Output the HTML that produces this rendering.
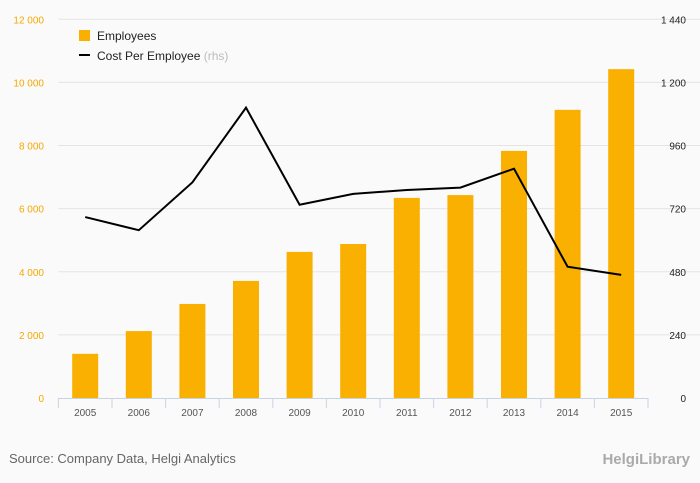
<!DOCTYPE html>
<html><head><meta charset="utf-8"><style>
body{margin:0;background:#fafafa;font-family:"Liberation Sans",sans-serif}
svg{display:block}
</style></head><body>
<svg width="700" height="483">
<rect width="700" height="483" fill="#fafafa"/>
<g id="grid"></g>
<g id="bars"></g>
<g id="line"></g>
<g id="axes"></g>
<g>
<rect x="79" y="30" width="11" height="11" fill="#f9b000"/>
<text x="97" y="40" font-size="12" fill="#222">Employees</text>
<line x1="79" y1="55" x2="90" y2="55" stroke="#000" stroke-width="2"/>
<text x="97" y="60" font-size="12" fill="#222">Cost Per Employee <tspan fill="#bbb">(rhs)</tspan></text>
</g>
<text x="9" y="463" font-size="13" fill="#666">Source: Company Data, Helgi Analytics</text>
<text x="690" y="464" font-size="15" fill="#aaa" text-anchor="end" font-weight="bold">HelgiLibrary</text>
</svg>
<script>
const years=["2005","2006","2007","2008","2009","2010","2011","2012","2013","2014","2015"];
const employees=[1400,2120,2980,3710,4630,4880,6340,6430,7830,9130,10420];
const costPerEmployee=[688,638,820,1104,735,776,791,800,872,499,468];
const leftTicks=[0,2000,4000,6000,8000,10000,12000];
const rightTicks=[0,240,480,720,960,1200,1440];
const NS="http://www.w3.org/2000/svg";
const x0=58.4,step=53.6,yb=398,yt=19.3;
const yL=v=>yb-(v/12000)*(yb-yt);
const yR=v=>yb-(v/1440)*(yb-yt);
const xc=i=>x0+step*(i+0.5);
const fmt=v=>v>=1000?Math.floor(v/1000)+" "+String(v%1000).padStart(3,"0"):String(v);
function mk(t,a,p){const e=document.createElementNS(NS,t);for(const k in a)e.setAttribute(k,a[k]);p.appendChild(e);return e;}
const grid=document.getElementById("grid"),axes=document.getElementById("axes");
leftTicks.forEach((v,i)=>{
 if(v>0){const g=mk("line",{x1:x0,x2:700,y1:yL(v),y2:yL(v),stroke:"#e4e4e4"},grid);
 
 }
 const t=mk("text",{x:44,y:yL(v)+4,"font-size":10,fill:"#f5a800","text-anchor":"end"},axes);t.textContent=fmt(v);
 
 
});
rightTicks.forEach(v=>{
 const t=mk("text",{x:686,y:yR(v)+4,"font-size":10,fill:"#222","text-anchor":"end"},axes);t.textContent=fmt(v);
 
 
});
const ax=mk("line",{x1:x0,x2:x0+step*11,y1:yb+0.5,y2:yb+0.5,stroke:"#c8d4e6"},axes);


for(let i=0;i<=11;i++){const tk=mk("line",{x1:x0+step*i,x2:x0+step*i,y1:yb,y2:yb+10,stroke:"#c8d4e6"},axes);
 
 }
const bars=document.getElementById("bars");
years.forEach((y,i)=>{
 const b=mk("rect",{x:xc(i)-13,y:yL(employees[i]),width:26,height:yb-yL(employees[i]),fill:"#f9b000"},bars);
 
 
 const t=mk("text",{x:xc(i),y:416,"font-size":10,fill:"#555","text-anchor":"middle"},axes);t.textContent=y;
 
 
});
const p=mk("polyline",{points:costPerEmployee.map((v,i)=>xc(i)+","+yR(v)).join(" "),fill:"none",stroke:"#000","stroke-width":2,"stroke-linejoin":"miter"},document.getElementById("line"));


</script>
</body></html>
